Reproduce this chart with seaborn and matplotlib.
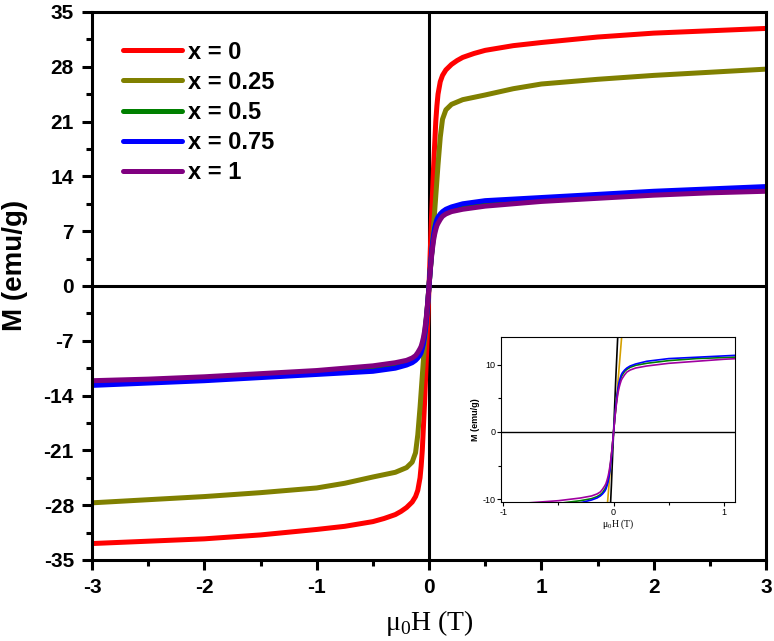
import numpy as np
import pandas as pd
import seaborn as sns
import matplotlib
matplotlib.use('Agg')
import matplotlib.pyplot as plt
from matplotlib.ticker import MultipleLocator

# field values (T), positive half of the loop; negative half is mirrored
field = [0, 0.01, 0.02, 0.03, 0.04, 0.05, 0.06, 0.07, 0.08, 0.1, 0.12, 0.15,
         0.2, 0.25, 0.3, 0.4, 0.5, 0.75, 1, 1.5, 2, 2.5, 3]

# magnetisation (emu/g)
m_x0 = [0, 4, 8, 11.5, 15, 18, 21, 23, 24.5, 26.1, 26.9, 27.6,
        28.3, 28.8, 29.2, 29.7, 30.1, 30.7, 31.1, 31.8, 32.3, 32.6, 32.9]
m_x025 = [0, 1.8, 3.5, 5.5, 7.5, 9.5, 11.5, 13.5, 15.5, 19.0, 21.3, 22.5,
          23.2, 23.5, 23.8, 24.1, 24.4, 25.2, 25.8, 26.4, 26.9, 27.3, 27.7]
m_x05 = [0, 1.9, 3.6, 5.0, 6.2, 7.1, 7.7, 8.2, 8.5, 9.0, 9.3, 9.6,
         9.9, 10.05, 10.2, 10.4, 10.6, 10.9, 11.05, 11.4, 11.8, 12.1, 12.4]
m_x075 = [0, 2.0, 3.8, 5.3, 6.5, 7.4, 8.0, 8.5, 8.8, 9.2, 9.5, 9.8,
          10.1, 10.3, 10.5, 10.7, 10.9, 11.1, 11.3, 11.7, 12.1, 12.4, 12.7]
m_x1 = [0, 1.8, 3.4, 4.7, 5.8, 6.6, 7.2, 7.7, 8.0, 8.5, 8.9, 9.2,
        9.5, 9.65, 9.8, 10.0, 10.2, 10.5, 10.8, 11.2, 11.6, 11.9, 12.1]

labels = ['x = 0', 'x = 0.25', 'x = 0.5', 'x = 0.75', 'x = 1']
series = [m_x0, m_x025, m_x05, m_x075, m_x1]
colors = ['#ff0000', '#808000', '#008000', '#0000ff', '#800080']
inset_colors = ['#000000', '#d4a000', '#008000', '#0000ff', '#a000a0']

rows = []
for lab, m in zip(labels, series):
    h = np.asarray(field)
    mm = np.asarray(m)
    hh = np.concatenate([-h[::-1], h[1:]])
    mf = np.concatenate([-mm[::-1], mm[1:]])
    for a, b in zip(hh, mf):
        rows.append({'H': a, 'M': b, 'sample': lab})
df = pd.DataFrame(rows)

sns.set_style('ticks')
plt.rcParams['font.family'] = ['Liberation Sans', 'DejaVu Sans']
plt.rcParams['mathtext.fontset'] = 'custom'
plt.rcParams['mathtext.rm'] = 'Liberation Serif'
plt.rcParams['axes.unicode_minus'] = False
plt.rcParams['axes.edgecolor'] = 'black'
plt.rcParams['xtick.color'] = 'black'
plt.rcParams['ytick.color'] = 'black'
plt.rcParams['text.color'] = 'black'
plt.rcParams['axes.labelcolor'] = 'black'

fig = plt.figure(figsize=(7.74, 6.41), dpi=100)
ax = fig.add_axes([0.1189, 0.1264, 0.8708, 0.8549])

ax.axhline(0, color='black', lw=2.2, zorder=1)
ax.axvline(0, color='black', lw=2.2, zorder=1)

sns.lineplot(data=df, x='H', y='M', hue='sample', palette=colors, hue_order=labels,
             sort=False, lw=3.6, ax=ax, zorder=2)

ax.set_xlim(-3, 3)
ax.set_ylim(-35, 35)
ax.xaxis.set_major_locator(MultipleLocator(1))
ax.xaxis.set_minor_locator(MultipleLocator(0.5))
ax.yaxis.set_major_locator(MultipleLocator(7))
ax.yaxis.set_minor_locator(MultipleLocator(3.5))
ax.tick_params(which='major', direction='out', length=7, width=2.2, labelsize=15, pad=6)
ax.tick_params(which='minor', direction='out', length=4, width=2.2)
for t in ax.get_xticklabels() + ax.get_yticklabels():
    t.set_fontweight('bold')
for s in ax.spines.values():
    s.set_linewidth(2.2)
    s.set_visible(True)

ax.set_xlabel(r'μ$_\mathregular{0}$H (T)', family='Liberation Serif', fontsize=20, labelpad=8)
ax.set_ylabel('M (emu/g)', fontsize=20, fontweight='bold')
ax.yaxis.set_label_coords(-0.095, 0.538)

leg = ax.legend(loc='upper left', frameon=False, fontsize=17, handlelength=2.5,
                handletextpad=0.25, labelspacing=0.3, borderaxespad=0,
                bbox_to_anchor=(0.032, 0.965))
for t in leg.get_texts():
    t.set_fontweight('bold')
for l in leg.get_lines():
    l.set_linewidth(3.6)

# inset zoom
ins = fig.add_axes([0.6473, 0.2168, 0.3023, 0.2574])
ins.axhline(0, color='black', lw=1.0, zorder=1)
sns.lineplot(data=df, x='H', y='M', hue='sample', palette=inset_colors, hue_order=labels,
             sort=False, lw=1.2, ax=ins, legend=False, zorder=2)
ins.set_xlim(-1.02, 1.1)
ins.set_ylim(-10.4, 14.1)
ins.xaxis.set_major_locator(MultipleLocator(1))
ins.xaxis.set_minor_locator(MultipleLocator(0.5))
ins.yaxis.set_major_locator(MultipleLocator(10))
ins.yaxis.set_minor_locator(MultipleLocator(5))
ins.tick_params(which='major', direction='out', length=3, width=0.8, labelsize=6.5, pad=1)
ins.tick_params(which='minor', direction='out', length=2, width=0.8)
for s in ins.spines.values():
    s.set_linewidth(0.8)
ins.set_xlabel(r'μ$_\mathregular{0}$H (T)', family='Liberation Serif', fontsize=7, labelpad=1)
ins.set_ylabel('M (emu/g)', fontsize=6.5, fontweight='bold', labelpad=2)

fig.savefig('out.png', dpi=100)
